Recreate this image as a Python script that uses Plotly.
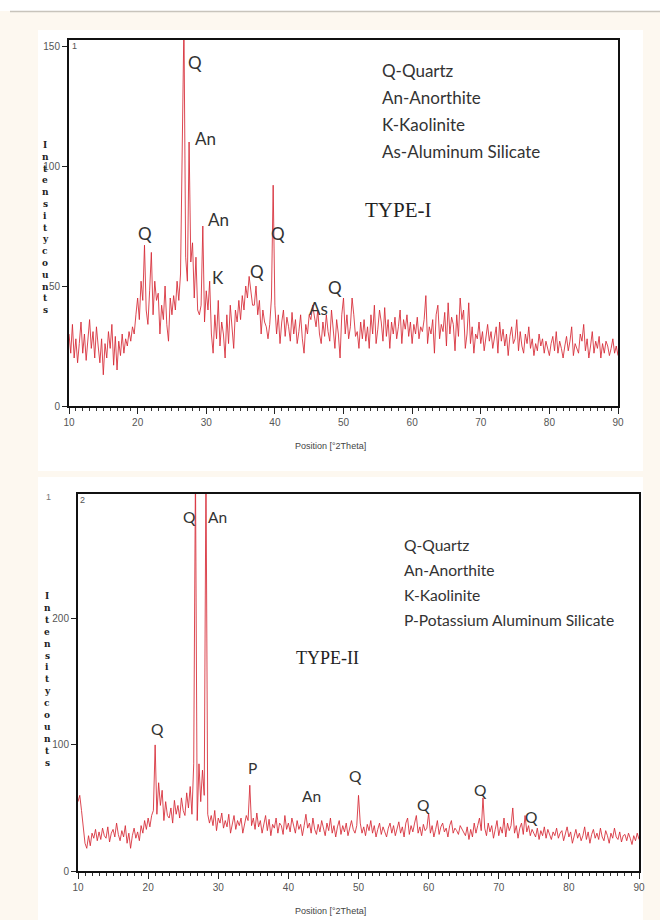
import plotly.graph_objects as go

# ---------------- data ----------------
theta_start = 10.0
theta_step = 0.25

type1_counts = [
    30, 22, 34, 20,  28, 18, 26, 35,  22, 30, 19, 27,  36, 24, 31, 20,
    33, 25, 18, 28,  13, 26, 20, 31,  24, 34, 17, 29,  15, 27, 21, 30,
    22, 28, 25, 31,  27, 33, 30, 38,  45, 36, 52, 44,  67, 40, 34, 48,
    64, 38, 52, 44,  47, 30, 42, 36,  50, 34, 27, 45,  38, 46, 40, 52,
    44, 55, 98, 160, 62, 52, 110, 60, 68, 45, 62, 40,  38, 42, 75, 35,
    48, 40, 52, 30,  22, 38, 28, 44,  25, 35, 30, 20,  38, 26, 42, 32,
    24, 40, 35, 44,  36, 46, 40, 50,  45, 54, 48, 42,  42, 50, 38, 44,
    30, 40, 35, 33,  28, 34, 45, 92,  42, 30, 38, 26,  35, 40, 29, 37,
    33, 27, 39, 30,  36, 26, 31, 38,  28, 22, 34, 30,  38, 36, 42, 38,
    33, 40, 30, 26,  35, 29, 38, 31,  27, 40, 33, 24,  36, 30, 20, 38,
    45, 30, 38, 28,  33, 45, 38, 29,  31, 24, 35, 28,  36, 27, 33, 24,
    38, 30, 42, 26,  32, 40, 35, 27,  41, 29, 36, 24,  35, 30, 37, 28,
    33, 40, 26, 36,  32, 38, 29, 35,  26, 34, 30, 37,  28, 33, 31, 36,
    46, 26, 33, 30,  36, 22, 38, 42,  28, 34, 31, 39,  25, 43, 30, 37,
    34, 23, 38, 29,  45, 36, 40, 24,  30, 43, 26, 33,  22, 30, 28, 35,
    26, 31, 23, 29,  34, 27, 31, 24,  29, 33, 22, 35,  27, 32, 25, 30,
    21, 29, 33, 26,  28, 36, 23, 31,  25, 22, 30, 26,  33, 24, 28, 21,
    26, 23, 30, 25,  28, 22, 27, 24,  21, 26, 29, 23,  31, 22, 27, 24,
    20, 25, 29, 23,  27, 33, 21, 26,  24, 22, 30, 27,  34, 23, 28, 20,
    25, 31, 22, 27,  24, 29, 20, 26,  22, 27, 25, 21,  24, 28, 22, 25,
    21,
]

type2_counts = [
    55, 60, 48, 35,  22, 18, 28, 20,  30, 26, 33, 24,  31, 25, 34, 28,
    26, 35, 23, 30,  33, 27, 38, 29,  24, 32, 27, 36,  22, 30, 18, 28,
    34, 26, 31, 24,  36, 30, 40, 33,  42, 35, 44, 48,  100, 45, 70, 52,
    64, 40, 55, 44,  42, 50, 38, 56,  45, 52, 42, 58,  48, 44, 62, 50,
    67, 45, 85, 320, 40, 85, 55, 80,  60, 320, 45, 38, 44, 36, 48, 32,
    42, 38, 46, 34,  40, 35, 45, 30,  38, 44, 33, 40,  36, 42, 30, 38,
    44, 40, 68, 36,  42, 33, 46, 35,  40, 30, 38, 44,  32, 41, 28, 37,
    34, 42, 30, 38,  36, 29, 44, 33,  38, 31, 42, 35,  30, 40, 33, 37,
    28, 36, 45, 34,  38, 30, 42, 33,  29, 37, 31, 40,  34, 28, 38, 32,
    42, 30, 36, 27,  35, 40, 29, 36,  31, 38, 28, 34,  40, 33, 30, 36,
    60, 38, 30, 35,  28, 37, 32, 40,  30, 36, 27, 33,  38, 29, 35, 31,
    27, 34, 38, 30,  36, 28, 33, 39,  30, 35, 27, 38,  42, 29, 36, 31,
    38, 44, 30, 35,  28, 37, 32, 34,  46, 30, 36, 27,  33, 40, 29, 35,
    38, 31, 34, 27,  36, 40, 30, 34,  32, 29, 36, 33,  30, 28, 35, 25,
    33, 27, 38, 30,  36, 42, 32, 58,  34, 28, 38, 31,  36, 26, 33, 40,
    28, 35, 30, 42,  27, 38, 32, 36,  50, 30, 36, 26,  34, 38, 29, 44,
    31, 36, 28, 33,  30, 27, 34, 25,  32, 28, 35, 26,  33, 29, 25, 31,
    28, 34, 26, 30,  32, 24, 29, 35,  27, 31, 22, 29,  33, 26, 30, 24,
    28, 35, 25, 31,  22, 29, 33, 26,  30, 25, 34, 27,  24, 32, 28, 22,
    30, 26, 34, 27,  25, 31, 23, 28,  29, 24, 30, 26,  21, 28, 24, 30,
    25,
]

two_theta_1 = [theta_start + i * theta_step for i in range(len(type1_counts))]
two_theta_2 = [theta_start + i * theta_step for i in range(len(type2_counts))]

x_ticks = [10, 20, 30, 40, 50, 60, 70, 80, 90]
y_ticks_1 = [0, 50, 100, 150]
y_ticks_2 = [0, 100, 200]

legend_1 = ["Q-Quartz", "An-Anorthite", "K-Kaolinite", "As-Aluminum Silicate"]
legend_2 = ["Q-Quartz", "An-Anorthite", "K-Kaolinite", "P-Potassium Aluminum Silicate"]

# peak labels: (text, pixel x, pixel y)
peaks_1 = [("Q", 195, 63), ("An", 205, 138), ("An", 218, 219), ("Q", 145, 233),
           ("K", 218, 278), ("Q", 257, 271), ("Q", 278, 233), ("As", 318, 308),
           ("Q", 335, 287)]
peaks_2 = [("Q", 189, 517), ("An", 217, 517), ("Q", 157, 729), ("P", 252, 768),
           ("An", 311, 796), ("Q", 355, 776), ("Q", 423, 805), ("Q", 480, 790),
           ("Q", 531, 817)]

# ---------------- layout helpers ----------------
W, H = 660, 920


def px(x):
    return x / W


def py(y):
    return 1 - y / H


LINE = "rgba(214,40,52,0.85)"
TICKFONT = dict(family="Liberation Sans Narrow, Liberation Sans, Arial, sans-serif", size=10, color="#555")

fig = go.Figure()
fig.add_trace(go.Scatter(x=two_theta_1, y=type1_counts, mode="lines",
                         line=dict(color=LINE, width=1), xaxis="x", yaxis="y",
                         showlegend=False, hoverinfo="skip"))
fig.add_trace(go.Scatter(x=two_theta_2, y=type2_counts, mode="lines",
                         line=dict(color=LINE, width=1), xaxis="x2", yaxis="y2",
                         showlegend=False, hoverinfo="skip"))

common_x = dict(range=[10, 90], tickvals=x_ticks, ticks="outside", ticklen=6, tickwidth=1,
                tickcolor="#222", showgrid=False, zeroline=False, showline=True,
                linecolor="#111", linewidth=2, mirror=True, tickfont=TICKFONT, automargin=False,
                minor=dict(dtick=1, ticks="outside", ticklen=3, tickcolor="#333", showgrid=False))
common_y = dict(ticks="outside", ticklen=5, tickwidth=1, tickcolor="#222", showgrid=False,
                zeroline=False, showline=True, linecolor="#111", linewidth=2, mirror=True,
                tickfont=TICKFONT, automargin=False)

shapes = [
    dict(type="rect", xref="paper", yref="paper", x0=0, x1=1, y0=py(920), y1=py(11),
         fillcolor="#fdf8f0", line=dict(width=0), layer="below"),
    dict(type="line", xref="paper", yref="paper", x0=px(10), x1=1, y0=py(11.5), y1=py(11.5),
         line=dict(color="#c8c4bc", width=1.5), layer="below"),
    dict(type="rect", xref="paper", yref="paper", x0=px(38), x1=px(643), y0=py(471), y1=py(30),
         fillcolor="white", line=dict(width=0), layer="below"),
    dict(type="rect", xref="paper", yref="paper", x0=px(38), x1=px(643), y0=py(920), y1=py(477),
         fillcolor="white", line=dict(width=0), layer="below"),
]

annotations = []


def add_text(text, x, y, size, family, color="#333", xanchor="center", yanchor="middle"):
    annotations.append(dict(text=text, x=px(x), y=py(y), xref="paper", yref="paper",
                            showarrow=False, xanchor=xanchor, yanchor=yanchor,
                            font=dict(size=size, family=family, color=color)))


LABEL_FAMILY = "Lato, Open Sans, sans-serif"
for t, x, y in peaks_1:
    add_text(t, x, y, 17, LABEL_FAMILY)
for t, x, y in peaks_2:
    add_text(t, x, y, 15.5, LABEL_FAMILY)

for i, t in enumerate(legend_1):
    add_text(t, 380, 70 + i * 27.3, 17, LABEL_FAMILY, xanchor="left")
for i, t in enumerate(legend_2):
    add_text(t, 402, 545 + i * 25, 15.6, LABEL_FAMILY, xanchor="left")

add_text("TYPE-I", 398, 210, 21, "Liberation Serif, Times New Roman, serif", color="#222")
add_text("TYPE-II", 327, 658, 18, "Liberation Serif, Times New Roman, serif", color="#222")

AX_FAMILY = "Liberation Sans Narrow, Liberation Sans, Arial, sans-serif"
add_text("Position [°2Theta]", 330, 446, 9, AX_FAMILY, color="#444")
add_text("Position [°2Theta]", 330, 911, 9, AX_FAMILY, color="#444")
add_text("1", 74, 46, 9, AX_FAMILY, color="#555")
add_text("2", 82, 500, 9, AX_FAMILY, color="#555")
add_text("1", 48, 497, 9, AX_FAMILY, color="#777")

for i, ch in enumerate("Intensitycounts"):
    add_text("<b>%s</b>" % ch, 45, 145 + i * 11.8, 9, "DejaVu Serif, serif", color="#222")
    add_text("<b>%s</b>" % ch, 47, 596 + i * 11.9, 9, "DejaVu Serif, serif", color="#222")

fig.update_layout(
    width=W, height=H, margin=dict(l=0, r=0, t=0, b=0),
    paper_bgcolor="white", plot_bgcolor="white",
    xaxis=dict(domain=[px(69), px(618)], anchor="y", **common_x),
    yaxis=dict(domain=[py(406), py(40)], anchor="x", range=[0, 152.5], tickvals=y_ticks_1, **common_y),
    xaxis2=dict(domain=[px(78), px(639)], anchor="y2", **common_x),
    yaxis2=dict(domain=[py(871), py(494)], anchor="x2", range=[0, 299], tickvals=y_ticks_2, **common_y),
    shapes=shapes, annotations=annotations,
)

fig.write_html("out.html", config={"displayModeBar": False},
               post_script="document.body.style.margin='0';document.body.style.overflow='hidden';")
